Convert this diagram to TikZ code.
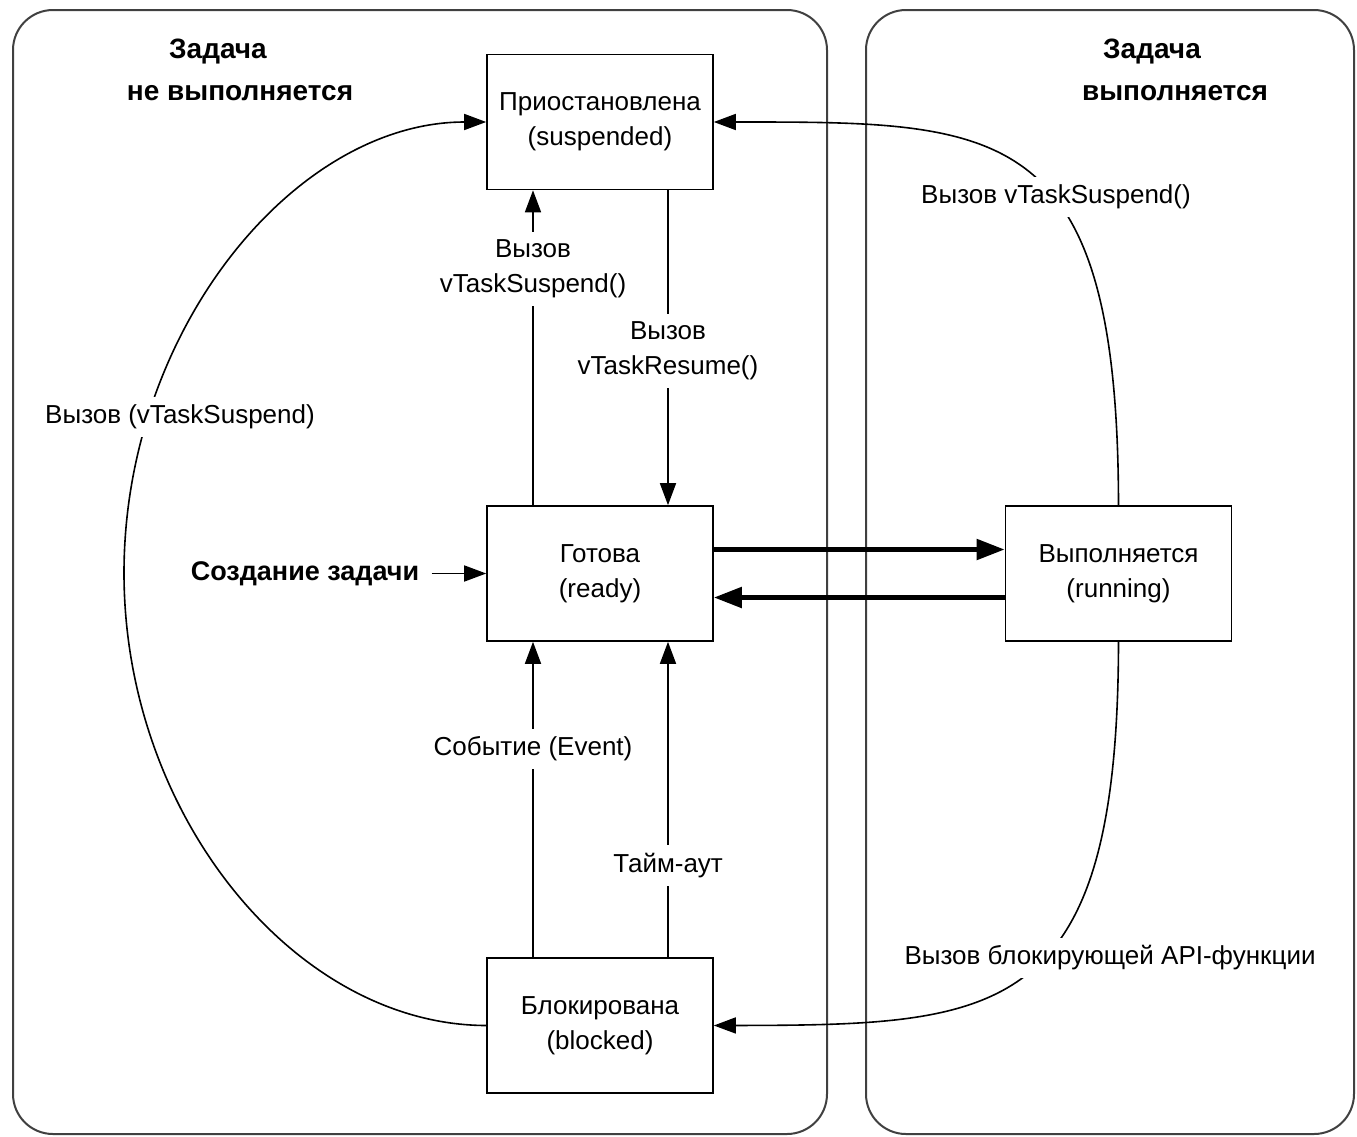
\documentclass[tikz,border=0pt]{standalone}
\usepackage{fontspec}
\setmainfont{Liberation Sans}
\usetikzlibrary{arrows.meta}
\begin{document}
\begin{tikzpicture}[x=0.5pt,y=-0.5pt,
  panel/.style={draw=black!75,line width=1pt,rounded corners=20pt},
  state/.style={draw,line width=0.8pt,minimum width=113pt,minimum height=67.5pt,align=center,
    font=\fontsize{13}{17.5}\selectfont,inner sep=0pt},
  lbl/.style={fill=white,align=center,font=\fontsize{13}{17.5}\selectfont,inner sep=4pt},
  title/.style={font=\fontsize{14}{19.5}\selectfont\bfseries,inner sep=0pt},
  conn/.style={line width=0.8pt,-{Triangle[length=11pt,width=8pt]}},
  thickconn/.style={line width=2.5pt,-{Triangle[length=14pt,width=10pt]}}]
\useasboundingbox (0,0) rectangle (1357,1137);
% panels
\draw[panel] (13,10) rectangle (827,1134);
\draw[panel] (866,10) rectangle (1354,1134);
% titles
\node[title] (t1a) at (218,52) {Задача};
\node[title] (t1b) at (240,93) {не выполняется};
\node[title] (t2a) at (1152,52) {Задача};
\node[title] (t2b) at (1175,93) {выполняется};
% states
\node[state] (susp) at (600,122) {Приостановлена\\(suspended)};
\node[state] (ready) at (600,573.5) {Готова\\(ready)};
\node[state] (blk) at (600,1025.5) {Блокирована\\(blocked)};
\node[state] (run) at (1118.5,573.5) {Выполняется\\(running)};
% creation
\node[font=\fontsize{13.5}{16}\selectfont\bfseries,inner sep=6pt] (create) at (305,573.5) {Создание задачи};
\draw[conn] (create.east) -- (ready.west);
% vertical transitions
\draw[conn] ([xshift=-33.5pt]ready.north) -- node[lbl,pos=0.75] (lsus) {Вызов\\vTaskSuspend()} ([xshift=-33.5pt]susp.south);
\draw[conn] ([xshift=34pt]susp.south) -- node[lbl,pos=0.51] (lres) {Вызов\\vTaskResume()} ([xshift=34pt]ready.north);
\draw[conn] ([xshift=-33.5pt]blk.north) -- node[lbl,pos=0.66] (lev) {Событие (Event)} ([xshift=-33.5pt]ready.south);
\draw[conn] ([xshift=34pt]blk.north) -- node[lbl,pos=0.29] (lto) {Тайм-аут} ([xshift=34pt]ready.south);
% ready <-> running
\draw[thickconn] ([yshift=12pt]ready.east) -- ([yshift=12pt]run.west);
\draw[thickconn] ([yshift=-12pt]run.west) -- ([yshift=-12pt]ready.east);
% left curve
\draw[conn] (blk.west) .. controls (295,1025) and (124,815) .. (124,573) .. controls (124,330) and (295,122) .. (susp.west);
\node[lbl] (lleft) at (180,417) {Вызов (vTaskSuspend)};
% right curves
\draw[conn] (run.north) .. controls (1118,120) and (1000,122) .. (susp.east);
\node[lbl] (ltop) at (1056,197) {Вызов vTaskSuspend()};
\draw[conn] (run.south) .. controls (1118,1020) and (1000,1025) .. (blk.east);
\node[lbl] (lbot) at (1110,958) {Вызов блокирующей API-функции};
\end{tikzpicture}
\end{document}
